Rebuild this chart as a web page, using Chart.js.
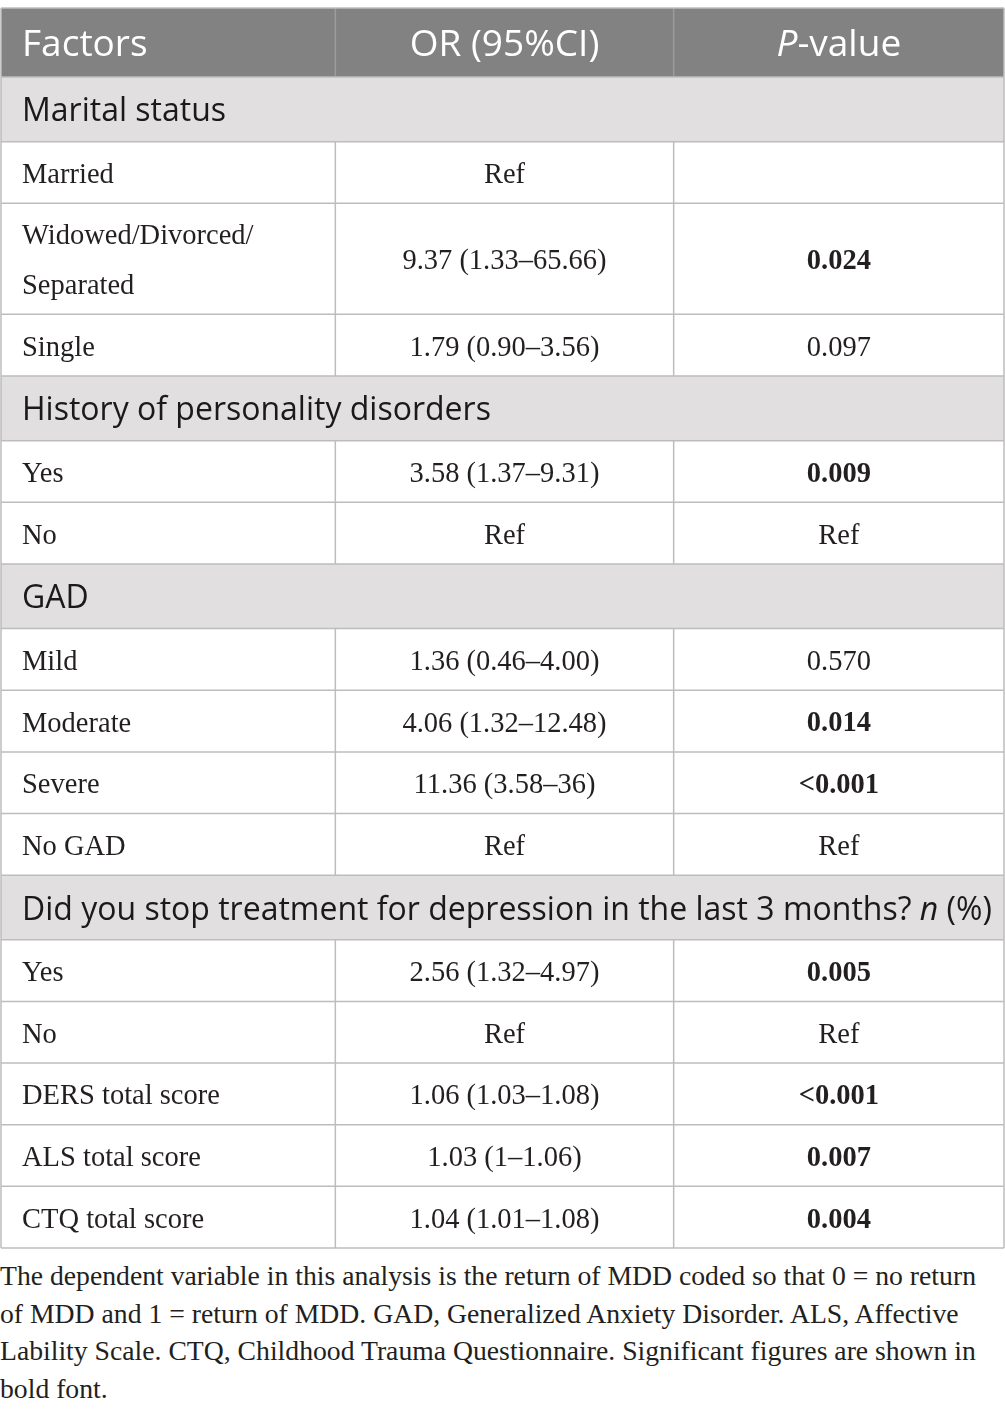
<!DOCTYPE html>
<html>
<head>
<meta charset="utf-8">
<script src="https://cdn.jsdelivr.net/npm/chart.js@4.4.1/dist/chart.umd.min.js"></script>
<style>
  body { margin: 0; background: #fff; }
  #note {
    font-family: "Liberation Serif", serif;
    font-size: 27.7px;
    line-height: 37.5px;
    color: #231f20;
    white-space: nowrap;
    margin: 0;
    padding-top: 1px;
  }
</style>
</head>
<body>
<canvas id="tbl" width="1005" height="1256"></canvas>
<div id="note">
The dependent variable in this analysis is the return of MDD coded so that 0 = no return<br>
of MDD and 1 = return of MDD. GAD, Generalized Anxiety Disorder. ALS, Affective<br>
Lability Scale. CTQ, Childhood Trauma Questionnaire. Significant figures are shown in<br>
bold font.
</div>
<script>
// table content ( _x_ marks italic text )
const columnHeads = ['Factors', 'OR (95%CI)', '_P_-value'];

const factorLabels = [
  'Marital status', 'Married', 'Widowed/Divorced/\nSeparated', 'Single',
  'History of personality disorders', 'Yes', 'No',
  'GAD', 'Mild', 'Moderate', 'Severe', 'No GAD',
  'Did you stop treatment for depression in the last 3 months? _n_ (%)', 'Yes', 'No',
  'DERS total score', 'ALS total score', 'CTQ total score'
];
const orValues = [
  '', 'Ref', '9.37 (1.33–65.66)', '1.79 (0.90–3.56)',
  '', '3.58 (1.37–9.31)', 'Ref',
  '', '1.36 (0.46–4.00)', '4.06 (1.32–12.48)', '11.36 (3.58–36)', 'Ref',
  '', '2.56 (1.32–4.97)', 'Ref',
  '1.06 (1.03–1.08)', '1.03 (1–1.06)', '1.04 (1.01–1.08)'
];
const pValues = [
  '', '', '0.024', '0.097',
  '', '0.009', 'Ref',
  '', '0.570', '0.014', '<0.001', 'Ref',
  '', '0.005', 'Ref',
  '<0.001', '0.007', '0.004'
];
const isSection = [
  true, false, false, false,
  true, false, false,
  true, false, false, false, false,
  true, false, false,
  false, false, false
];

// layout
const colWidths = [335, 339, 331];
const rowUnits = { head: 1.12, section: 1.05, row: 1, double: 1.8 };

function kindOf(i) {
  if (isSection[i]) return 'section';
  return factorLabels[i].includes('\n') ? 'double' : 'row';
}

const yEdges = [0, rowUnits.head];
factorLabels.forEach((_, i) => yEdges.push(yEdges[yEdges.length - 1] + rowUnits[kindOf(i)]));
const xEdges = [0];
colWidths.forEach(w => xEdges.push(xEdges[xEdges.length - 1] + w));

function isSignificant(p) {
  if (p.startsWith('<')) return true;
  const v = parseFloat(p);
  return !isNaN(v) && v < 0.05;
}

// draw text with _italic_ segments
function richText(ctx, str, x, y, font, italicFont, align) {
  const parts = str.split('_');
  let total = 0;
  const widths = parts.map((p, k) => {
    ctx.font = k % 2 ? italicFont : font;
    const w = ctx.measureText(p).width;
    total += w;
    return w;
  });
  let cx = align === 'center' ? x - total / 2 : x;
  parts.forEach((p, k) => {
    ctx.font = k % 2 ? italicFont : font;
    ctx.textAlign = 'left';
    ctx.fillText(p, cx, y);
    cx += widths[k];
  });
}

const tablePlugin = {
  id: 'tableCells',
  afterDraw(chart) {
    const { ctx, scales: { x, y } } = chart;
    const X = v => x.getPixelForValue(v);
    const Y = v => y.getPixelForValue(v);
    const left = X(0), right = X(xEdges[3]);
    const colMid = c => (X(xEdges[c]) + X(xEdges[c + 1])) / 2;
    const padL = 21;

    ctx.save();
    ctx.textBaseline = 'middle';

    // header
    const hTop = Y(yEdges[0]), hBot = Y(yEdges[1]);
    ctx.fillStyle = '#818281';
    ctx.fillRect(left, hTop, right - left, hBot - hTop);
    ctx.fillStyle = '#ffffff';
    const headFont = '37px "Open Sans"';
    const headItal = 'italic 37px "Open Sans"';
    const hMid = (hTop + hBot) / 2 + 3;
    richText(ctx, columnHeads[0], left + padL, hMid, headFont, headItal, 'left');
    richText(ctx, columnHeads[1], colMid(1), hMid, headFont, headItal, 'center');
    richText(ctx, columnHeads[2], colMid(2), hMid, headFont, headItal, 'center');
    ctx.strokeStyle = '#9c9c9c';
    ctx.lineWidth = 1.5;
    [1, 2].forEach(c => {
      ctx.beginPath();
      ctx.moveTo(X(xEdges[c]), hTop);
      ctx.lineTo(X(xEdges[c]), hBot);
      ctx.stroke();
    });

    // body rows
    factorLabels.forEach((label, i) => {
      const top = Y(yEdges[i + 1]), bot = Y(yEdges[i + 2]);
      const mid = (top + bot) / 2 + 3;
      if (isSection[i]) {
        ctx.fillStyle = '#e1dfe0';
        ctx.fillRect(left, top, right - left, bot - top);
        ctx.fillStyle = '#1a1a1a';
        richText(ctx, label, left + padL, mid, '500 32px "Open Sans"', 'italic 500 32px "Open Sans"', 'left');
      } else {
        ctx.fillStyle = '#231f20';
        const serif = '28.5px "Liberation Serif"';
        const lines = label.split('\n');
        lines.forEach((ln, k) => {
          const ly = mid + (k - (lines.length - 1) / 2) * 50;
          ctx.font = serif;
          ctx.textAlign = 'left';
          ctx.fillText(ln, left + padL, ly);
        });
        ctx.textAlign = 'center';
        ctx.font = serif;
        ctx.fillText(orValues[i], colMid(1), mid);
        ctx.font = isSignificant(pValues[i]) ? 'bold 28.5px "Liberation Serif"' : serif;
        ctx.fillText(pValues[i], colMid(2), mid);

        ctx.strokeStyle = '#bdbdbd';
        ctx.lineWidth = 1.5;
        [1, 2].forEach(c => {
          ctx.beginPath();
          ctx.moveTo(X(xEdges[c]), top);
          ctx.lineTo(X(xEdges[c]), bot);
          ctx.stroke();
        });
      }
    });

    // horizontal rules and outer border
    ctx.strokeStyle = '#bdbdbd';
    ctx.lineWidth = 1.5;
    yEdges.forEach(v => {
      ctx.beginPath();
      ctx.moveTo(left, Y(v));
      ctx.lineTo(right, Y(v));
      ctx.stroke();
    });
    [left, right].forEach(px => {
      ctx.beginPath();
      ctx.moveTo(px, Y(0));
      ctx.lineTo(px, Y(yEdges[yEdges.length - 1]));
      ctx.stroke();
    });
    ctx.restore();
  }
};

new Chart(document.getElementById('tbl'), {
  type: 'scatter',
  data: { datasets: [{ data: [] }] },
  options: {
    responsive: false,
    animation: false,
    layout: { padding: { top: 8, left: 1, right: 1, bottom: 8 } },
    plugins: { legend: { display: false }, tooltip: { enabled: false } },
    scales: {
      x: { type: 'linear', display: false, min: 0, max: xEdges[3] },
      y: { type: 'linear', display: false, reverse: true, min: 0, max: yEdges[yEdges.length - 1] }
    }
  },
  plugins: [tablePlugin]
});
</script>
</body>
</html>
